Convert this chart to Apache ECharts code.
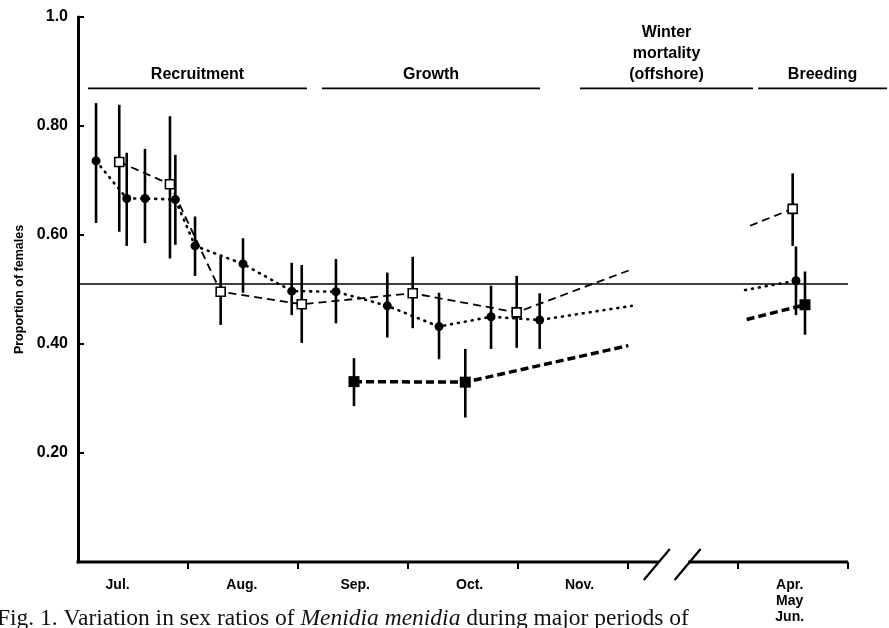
<!DOCTYPE html>
<html>
<head>
<meta charset="utf-8">
<script src="https://cdn.jsdelivr.net/npm/echarts@6/dist/echarts.min.js"></script>
<style>
html,body{margin:0;padding:0;background:#fff;}
#chart{width:889px;height:628px;}
</style>
</head>
<body>
<div id="chart"></div>
<script>
// x in months from 1 July; the Dec–Mar winter is compressed into the axis break
const monthLabelPos = [0.36, 1.49, 2.52, 3.56, 4.56, 6.47];
const monthLabels = ['Jul.', 'Aug.', 'Sep.', 'Oct.', 'Nov.', 'Apr.\nMay\nJun.'];
const monthTicks = [1, 2, 3, 4, 5, 6, 7];
const yTicks = [0.2, 0.4, 0.6, 0.8, 1.0];

// filled circles, dotted line
const dotX  = [0.164, 0.443, 0.609, 0.885, 1.064, 1.500, 1.943, 2.345, 2.812, 3.282, 3.755, 4.197, 6.527];
const dotY  = [0.736, 0.667, 0.667, 0.665, 0.580, 0.547, 0.497, 0.496, 0.470, 0.432, 0.450, 0.444, 0.516];
const dotLo = [0.622, 0.580, 0.585, 0.582, 0.525, 0.494, 0.453, 0.438, 0.412, 0.372, 0.391, 0.391, 0.453];
const dotHi = [0.842, 0.751, 0.758, 0.747, 0.634, 0.594, 0.549, 0.556, 0.531, 0.494, 0.507, 0.493, 0.579];
const dotExtX = [5.034, 6.064];
const dotExtY = [0.470, 0.499];

// open squares, thin dashed line
const sqX  = [0.375, 0.836, 1.297, 2.034, 3.043, 3.988, 6.497];
const sqY  = [0.734, 0.693, 0.496, 0.473, 0.493, 0.458, 0.648];
const sqLo = [0.606, 0.557, 0.435, 0.402, 0.429, 0.393, 0.580];
const sqHi = [0.839, 0.818, 0.561, 0.545, 0.560, 0.525, 0.713];
const sqExtX = [5.034, 6.109];
const sqExtY = [0.537, 0.617];

// filled squares, heavy dashed line
const bsqX  = [2.509, 3.521, 6.609];
const bsqY  = [0.331, 0.330, 0.472];
const bsqLo = [0.286, 0.265, 0.417];
const bsqHi = [0.374, 0.391, 0.533];
const bsqExtX = [5.003, 6.079];
const bsqExtY = [0.397, 0.445];

const refRatio = 0.506;

const periodNames = ['Recruitment', 'Growth', 'Winter\nmortality\n(offshore)', 'Breeding'];
const periodStart = [0.091, 2.218, 4.564, 6.182];
const periodEnd   = [2.082, 4.200, 6.136, 7.355];

const axisSegStart = [0, 5.56];
const axisSegEnd   = [5.28, 7];
const breakMarks = [5.28, 5.56];

const breakAt = 5.42;
const FONT = 'Liberation Sans';

function lineData(xs, ys, ex, ey) {
  const out = [];
  xs.forEach((x, i) => { if (x < breakAt) out.push({ value: [x, ys[i]] }); });
  out.push({ value: [ex[0], ey[0]], symbol: 'none' });
  out.push({ value: [breakAt, '-'] });
  out.push({ value: [ex[1], ey[1]], symbol: 'none' });
  xs.forEach((x, i) => { if (x >= breakAt) out.push({ value: [x, ys[i]] }); });
  return out;
}
function barData(xs, lo, hi) { return xs.map((x, i) => [x, lo[i], hi[i]]); }

function errRender(params, api) {
  const a = api.coord([api.value(0), api.value(1)]);
  const b = api.coord([api.value(0), api.value(2)]);
  return { type: 'line', shape: { x1: a[0], y1: a[1], x2: b[0], y2: b[1] },
           style: { stroke: '#000', lineWidth: 2.6 } };
}

const allBars = barData(dotX, dotLo, dotHi).concat(barData(sqX, sqLo, sqHi), barData(bsqX, bsqLo, bsqHi));

const chart = echarts.init(document.getElementById('chart'), null, { renderer: 'canvas' });
chart.setOption({
  animation: false,
  backgroundColor: '#fff',
  grid: { left: 78, right: 41, top: 17, bottom: 66 },
  xAxis: {
    type: 'value', min: 0, max: 7,
    axisLine: { show: false },
    splitLine: { show: false },
    axisTick: { show: true, customValues: monthTicks, length: 7, lineStyle: { color: '#000', width: 2 } },
    axisLabel: {
      customValues: monthLabelPos, margin: 15, color: '#000',
      fontFamily: FONT, fontWeight: 'bold', fontSize: 14, lineHeight: 16,
      formatter: function (v) {
        let best = 0;
        monthLabelPos.forEach((p, i) => { if (Math.abs(p - v) < Math.abs(monthLabelPos[best] - v)) best = i; });
        return monthLabels[best];
      }
    }
  },
  yAxis: {
    type: 'value', min: 0, max: 1, interval: 0.2,
    name: 'Proportion of females', nameLocation: 'middle', nameRotate: 90, nameGap: 50,
    nameTextStyle: { color: '#000', fontFamily: FONT, fontWeight: 'bold', fontSize: 12.5 },
    axisLine: { show: true, lineStyle: { color: '#000', width: 3 } },
    axisTick: { show: true, inside: true, customValues: yTicks, length: 6, lineStyle: { color: '#000', width: 2 } },
    splitLine: { show: false },
    axisLabel: {
      customValues: yTicks, margin: 10, color: '#000',
      fontFamily: FONT, fontWeight: 'bold', fontSize: 16,
      formatter: v => (Math.abs(v - 1) < 1e-9 ? '1.0' : v.toFixed(2))
    }
  },
  graphic: [{
    type: 'text', left: -3, top: 607,
    style: {
      text: 'Fig. 1. Variation in sex ratios of {i|Menidia menidia} during major periods of',
      font: '23.5px "Liberation Serif"', fill: '#111',
      rich: { i: { fontFamily: 'Liberation Serif', fontStyle: 'italic', fontSize: 23.5, fill: '#111' } }
    }
  }],
  series: [
    { // x axis line with a break
      type: 'custom', z: 3, silent: true, clip: false,
      data: axisSegStart.map((s, i) => [s, axisSegEnd[i]]),
      renderItem: function (params, api) {
        const a = api.coord([api.value(0), 0]);
        const b = api.coord([api.value(1), 0]);
        return { type: 'line', shape: { x1: a[0] - 1.5, y1: a[1], x2: b[0], y2: b[1] },
                 style: { stroke: '#000', lineWidth: 3 } };
      }
    },
    { // break slashes
      type: 'custom', z: 3, silent: true, clip: false,
      data: breakMarks.map(x => [x]),
      renderItem: function (params, api) {
        const c = api.coord([api.value(0), 0]);
        return { type: 'line', shape: { x1: c[0] - 15, y1: c[1] + 18, x2: c[0] + 11, y2: c[1] - 13 },
                 style: { stroke: '#000', lineWidth: 2.2 } };
      }
    },
    { // period bars and labels
      type: 'custom', z: 3, silent: true, clip: false,
      data: periodNames.map((n, i) => [periodStart[i], periodEnd[i], i]),
      renderItem: function (params, api) {
        const a = api.coord([api.value(0), 0.869]);
        const b = api.coord([api.value(1), 0.869]);
        const name = periodNames[api.value(2)];
        return { type: 'group', children: [
          { type: 'line', shape: { x1: a[0], y1: a[1], x2: b[0], y2: b[1] }, style: { stroke: '#000', lineWidth: 1.6 } },
          { type: 'text', style: { text: name, x: (a[0] + b[0]) / 2, y: a[1] - 3, align: 'center', verticalAlign: 'bottom',
              font: 'bold 16px "' + FONT + '"', lineHeight: 21, fill: '#000' } }
        ] };
      }
    },
    { // error bars
      type: 'custom', z: 4, silent: true,
      data: allBars,
      renderItem: errRender
    },
    {
      name: 'circles', type: 'line', z: 5,
      data: lineData(dotX, dotY, dotExtX, dotExtY),
      symbol: 'circle', symbolSize: 9, connectNulls: false,
      itemStyle: { color: '#000' },
      lineStyle: { color: '#000', width: 2.6, type: [1, 6], cap: 'round' },
      markLine: {
        silent: true, symbol: 'none', label: { show: false },
        lineStyle: { color: '#000', width: 1.6, type: 'solid' },
        data: [{ yAxis: refRatio }]
      }
    },
    {
      name: 'open squares', type: 'line', z: 6,
      data: lineData(sqX, sqY, sqExtX, sqExtY),
      symbol: 'rect', symbolSize: 9, connectNulls: false,
      itemStyle: { color: '#fff', borderColor: '#000', borderWidth: 1.6 },
      lineStyle: { color: '#000', width: 1.8, type: [8, 5] }
    },
    {
      name: 'filled squares', type: 'line', z: 6,
      data: lineData(bsqX, bsqY, bsqExtX, bsqExtY),
      symbol: 'rect', symbolSize: 11, connectNulls: false,
      itemStyle: { color: '#000' },
      lineStyle: { color: '#000', width: 3.5, type: [8, 4] }
    }
  ]
});
</script>
</body>
</html>
